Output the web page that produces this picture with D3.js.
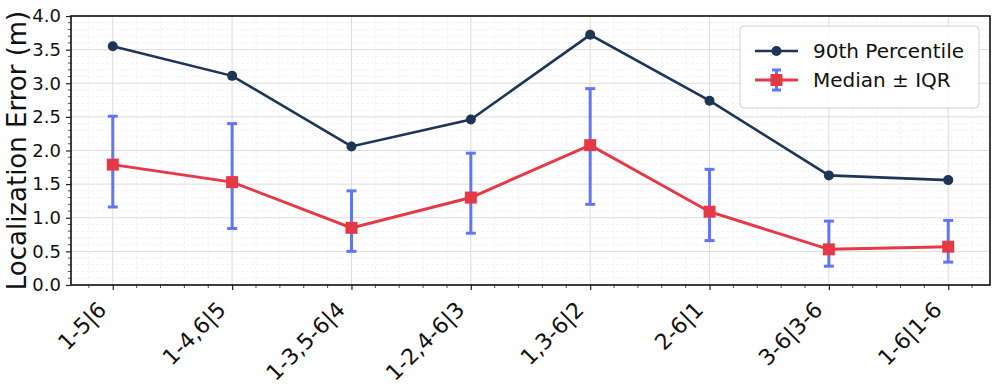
<!DOCTYPE html>
<html>
<head>
<meta charset="utf-8">
<script src="https://cdn.jsdelivr.net/npm/d3@7"></script>
<style>
  body { margin: 0; background: #fff; }
  text { font-family: "DejaVu Sans", sans-serif; fill: #111; }
</style>
</head>
<body>
<div id="chart"></div>
<script>
// data
var categories = ["1-5|6", "1-4,6|5", "1-3,5-6|4", "1-2,4-6|3", "1,3-6|2", "2-6|1", "3-6|3-6", "1-6|1-6"];
var p90 = [3.55, 3.11, 2.06, 2.46, 3.72, 2.74, 1.63, 1.56];
var median = [1.79, 1.53, 0.85, 1.30, 2.08, 1.09, 0.53, 0.57];
var iqrLow = [1.16, 0.84, 0.50, 0.77, 1.20, 0.66, 0.28, 0.34];
var iqrHigh = [2.51, 2.40, 1.40, 1.96, 2.92, 1.72, 0.95, 0.96];
var yTicks = [0, 0.5, 1.0, 1.5, 2.0, 2.5, 3.0, 3.5, 4.0];

var margin = {top: 16, right: 6, bottom: 103, left: 71},
    width = 996 - margin.left - margin.right,
    height = 388 - margin.top - margin.bottom;

var svg = d3.select("#chart")
  .append("svg")
    .attr("width", 996)
    .attr("height", 388)
  .append("g")
    .attr("transform", "translate(" + margin.left + "," + margin.top + ")");

var x = d3.scaleLinear()
  .domain([-0.35, categories.length - 1 + 0.35])
  .range([0, width]);

var y = d3.scaleLinear()
  .domain([0, 4.0])
  .range([height, 0]);

// minor grid
var minorX = d3.range(-0.2, categories.length - 1 + 0.35, 0.2).filter(function(v) { return Math.abs(v - Math.round(v)) > 0.01; });
var minorY = d3.range(0, 4.001, 0.1).filter(function(v) { return Math.abs(v * 2 - Math.round(v * 2)) > 0.01; });

svg.selectAll(".gx-minor")
  .data(minorX)
  .enter().append("line")
    .attr("x1", function(d) { return x(d); })
    .attr("x2", function(d) { return x(d); })
    .attr("y1", 0).attr("y2", height)
    .attr("stroke", "#efefef")
    .attr("stroke-width", 0.8)
    .attr("stroke-dasharray", "3,2");

svg.selectAll(".gy-minor")
  .data(minorY)
  .enter().append("line")
    .attr("x1", 0).attr("x2", width)
    .attr("y1", function(d) { return y(d); })
    .attr("y2", function(d) { return y(d); })
    .attr("stroke", "#efefef")
    .attr("stroke-width", 0.8)
    .attr("stroke-dasharray", "3,2");

// major grid
svg.selectAll(".gx")
  .data(categories)
  .enter().append("line")
    .attr("x1", function(d, i) { return x(i); })
    .attr("x2", function(d, i) { return x(i); })
    .attr("y1", 0).attr("y2", height)
    .attr("stroke", "#dcdcdc")
    .attr("stroke-width", 1);

svg.selectAll(".gy")
  .data(yTicks)
  .enter().append("line")
    .attr("x1", 0).attr("x2", width)
    .attr("y1", function(d) { return y(d); })
    .attr("y2", function(d) { return y(d); })
    .attr("stroke", "#dcdcdc")
    .attr("stroke-width", 1);

// axes
var xAxis = svg.append("g")
  .attr("transform", "translate(0," + height + ")")
  .call(d3.axisBottom(x)
    .tickValues(d3.range(categories.length))
    .tickFormat(function(d) { return categories[d]; })
    .tickSizeInner(5).tickSizeOuter(0));
xAxis.select(".domain").remove();
xAxis.selectAll(".tick line").attr("stroke", "#222").attr("stroke-width", 1.2);
xAxis.selectAll("text")
  .style("font-size", "22px")
  .attr("text-anchor", "end")
  .attr("x", 0).attr("y", 0).attr("dy", 0)
  .attr("transform", "translate(-5.5,26) rotate(-45)");

svg.append("g")
  .attr("transform", "translate(0," + height + ")")
  .selectAll("line")
  .data(minorX)
  .enter().append("line")
    .attr("x1", function(d) { return x(d); })
    .attr("x2", function(d) { return x(d); })
    .attr("y1", 0).attr("y2", 3)
    .attr("stroke", "#222").attr("stroke-width", 0.8);

var yAxis = svg.append("g")
  .call(d3.axisLeft(y)
    .tickValues(yTicks)
    .tickFormat(d3.format(".1f"))
    .tickSizeInner(5).tickSizeOuter(0)
    .tickPadding(5));
yAxis.select(".domain").remove();
yAxis.selectAll(".tick line").attr("stroke", "#222").attr("stroke-width", 1.2);
yAxis.selectAll("text").style("font-size", "18px");

svg.append("g")
  .selectAll("line")
  .data(minorY)
  .enter().append("line")
    .attr("x1", -3).attr("x2", 0)
    .attr("y1", function(d) { return y(d); })
    .attr("y2", function(d) { return y(d); })
    .attr("stroke", "#222").attr("stroke-width", 0.8);

// frame
svg.append("rect")
  .attr("width", width).attr("height", height)
  .attr("fill", "none")
  .attr("stroke", "#111")
  .attr("stroke-width", 1.6);

svg.append("text")
  .attr("transform", "rotate(-90)")
  .attr("x", -height / 2)
  .attr("y", -45)
  .attr("text-anchor", "middle")
  .style("font-size", "26px")
  .text("Localization Error (m)");

// error bars
var errColor = "#6375f7";
var eb = svg.selectAll(".eb")
  .data(median)
  .enter().append("g");
eb.append("line")
  .attr("x1", function(d, i) { return x(i); })
  .attr("x2", function(d, i) { return x(i); })
  .attr("y1", function(d, i) { return y(iqrLow[i]); })
  .attr("y2", function(d, i) { return y(iqrHigh[i]); })
  .attr("stroke", errColor).attr("stroke-width", 3);
eb.append("line")
  .attr("x1", function(d, i) { return x(i) - 5; })
  .attr("x2", function(d, i) { return x(i) + 5; })
  .attr("y1", function(d, i) { return y(iqrLow[i]); })
  .attr("y2", function(d, i) { return y(iqrLow[i]); })
  .attr("stroke", errColor).attr("stroke-width", 3);
eb.append("line")
  .attr("x1", function(d, i) { return x(i) - 5; })
  .attr("x2", function(d, i) { return x(i) + 5; })
  .attr("y1", function(d, i) { return y(iqrHigh[i]); })
  .attr("y2", function(d, i) { return y(iqrHigh[i]); })
  .attr("stroke", errColor).attr("stroke-width", 3);

var line = d3.line()
  .x(function(d, i) { return x(i); })
  .y(function(d) { return y(d); });

var red = "#e63946", navy = "#1d3557";

svg.append("path")
  .datum(median)
  .attr("d", line)
  .attr("fill", "none")
  .attr("stroke", red)
  .attr("stroke-width", 3);

svg.selectAll(".sq")
  .data(median)
  .enter().append("rect")
    .attr("x", function(d, i) { return x(i) - 6; })
    .attr("y", function(d) { return y(d) - 6; })
    .attr("width", 12).attr("height", 12)
    .attr("fill", red);

svg.append("path")
  .datum(p90)
  .attr("d", line)
  .attr("fill", "none")
  .attr("stroke", navy)
  .attr("stroke-width", 2.6);

svg.selectAll(".dot")
  .data(p90)
  .enter().append("circle")
    .attr("cx", function(d, i) { return x(i); })
    .attr("cy", function(d) { return y(d); })
    .attr("r", 5)
    .attr("fill", navy);

// legend
var lg = svg.append("g")
  .attr("transform", "translate(" + (740 - margin.left) + "," + (26 - margin.top) + ")");
lg.append("rect")
  .attr("width", 239).attr("height", 82)
  .attr("rx", 4)
  .attr("fill", "#fff").attr("fill-opacity", 0.85)
  .attr("stroke", "#d0d0d0").attr("stroke-width", 1);

lg.append("line")
  .attr("x1", 15).attr("x2", 58).attr("y1", 25).attr("y2", 25)
  .attr("stroke", navy).attr("stroke-width", 2.6);
lg.append("circle")
  .attr("cx", 36.5).attr("cy", 25).attr("r", 5).attr("fill", navy);
lg.append("text")
  .attr("x", 73).attr("y", 25).attr("dy", "0.36em")
  .style("font-size", "20px")
  .text("90th Percentile");

lg.append("line")
  .attr("x1", 36.5).attr("x2", 36.5).attr("y1", 44).attr("y2", 64)
  .attr("stroke", errColor).attr("stroke-width", 3);
lg.append("line")
  .attr("x1", 32).attr("x2", 41).attr("y1", 44).attr("y2", 44)
  .attr("stroke", errColor).attr("stroke-width", 3);
lg.append("line")
  .attr("x1", 32).attr("x2", 41).attr("y1", 64).attr("y2", 64)
  .attr("stroke", errColor).attr("stroke-width", 3);
lg.append("line")
  .attr("x1", 15).attr("x2", 58).attr("y1", 54).attr("y2", 54)
  .attr("stroke", red).attr("stroke-width", 3);
lg.append("rect")
  .attr("x", 30.5).attr("y", 48).attr("width", 12).attr("height", 12)
  .attr("fill", red);
lg.append("text")
  .attr("x", 73).attr("y", 54).attr("dy", "0.36em")
  .style("font-size", "20px")
  .text("Median \u00b1 IQR");
</script>
</body>
</html>
